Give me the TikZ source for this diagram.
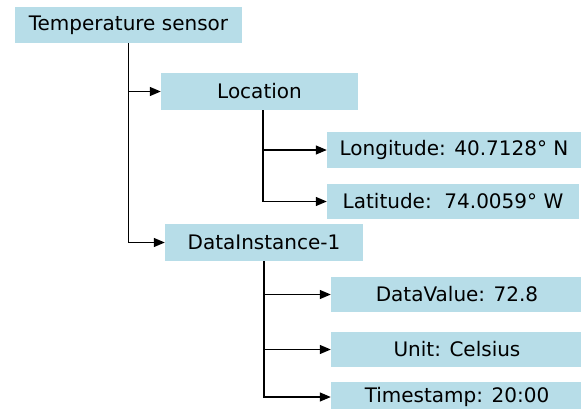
\documentclass[tikz,border=0pt]{standalone}
\usepackage{fontspec}
\setmainfont{DejaVu Sans}
\usetikzlibrary{arrows.meta}
\definecolor{boxblue}{HTML}{B7DDE8}
\tikzset{
  box/.style={fill=boxblue, draw=none, inner sep=0pt, font=\fontsize{20}{24}\selectfont},
  arr/.style={draw=black, line width=1.2pt, -{Triangle[length=11pt,width=9pt]}},
}
\begin{document}
\begin{tikzpicture}[x=1pt,y=-1pt]
\useasboundingbox (0,0) rectangle (581,408);
\clip (0,0) rectangle (581,408);
\node[box, minimum width=227pt, minimum height=36pt] (ts) at (128.5,25) {Temperature sensor};
\node[box, minimum width=197pt, minimum height=37pt] (loc) at (259.5,91.5) {Location};
\node[box, minimum width=254pt, minimum height=36pt] (lon) at (454,150) {Longitude: 40.7128° N};
\node[box, minimum width=252pt, minimum height=35pt] (lat) at (453,201.5) {Latitude:\ \ 74.0059° W};
\node[box, minimum width=198pt, minimum height=37pt] (di) at (264,242.5) {DataInstance-1};
\node[box, minimum width=252pt, minimum height=35pt] (dv) at (457,294.5) {DataValue: 72.8};
\node[box, minimum width=252pt, minimum height=35pt] (unit) at (457,349.5) {Unit: Celsius};
\node[box, minimum width=252pt, minimum height=30pt] (time) at (457,397) {Timestamp: 20:00};
\draw[arr] (ts.south) |- (loc.west);
\draw[arr] (ts.south) |- (di.west);
\draw[arr] ([xshift=3.5pt]loc.south) |- (lon.west);
\draw[arr] ([xshift=3.5pt]loc.south) |- (lat.west);
\draw[arr] (di.south) |- (dv.west);
\draw[arr] (di.south) |- (unit.west);
\draw[arr] (di.south) |- (time.west);
\end{tikzpicture}
\end{document}
